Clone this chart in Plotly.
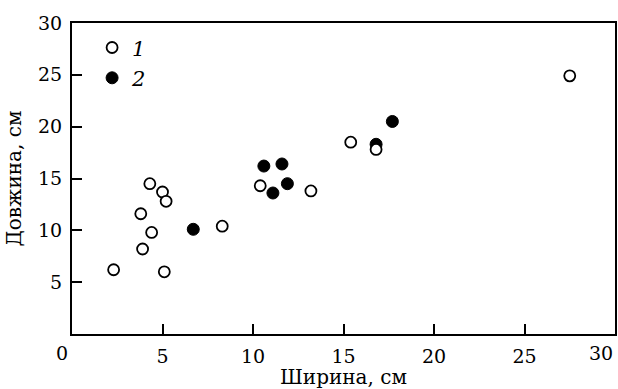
import plotly.graph_objects as go

# Data (width, length in cm)
open_x = [2.3, 4.3, 5.0, 5.2, 3.8, 4.4, 3.9, 5.1, 8.3, 10.4, 13.2, 15.4, 16.8, 27.5]
open_y = [6.2, 14.5, 13.7, 12.8, 11.6, 9.8, 8.2, 6.0, 10.4, 14.3, 13.8, 18.5, 17.8, 24.9]
filled_x = [6.7, 10.6, 11.6, 11.9, 11.1, 16.8, 17.7]
filled_y = [10.1, 16.2, 16.4, 14.5, 13.6, 18.3, 20.5]

x_ticks = [5, 10, 15, 20, 25]
y_ticks = [5, 10, 15, 20, 25, 30]
x_title = "Ширина, см"
y_title = "Довжина, см"
names = ["<i>1</i>", "<i>2</i>"]

TICKFONT = dict(family="DejaVu Serif", size=19, color="black")
TITLEFONT = dict(family="DejaVu Serif", size=20, color="black")

fig = go.Figure()
fig.add_trace(go.Scatter(
    x=filled_x, y=filled_y, mode="markers", name=names[1],
    marker=dict(symbol="circle", size=12, color="black", line=dict(color="black", width=1)),
))
fig.add_trace(go.Scatter(
    x=open_x, y=open_y, mode="markers", name=names[0],
    marker=dict(symbol="circle", size=11, color="white", line=dict(color="black", width=1.8)),
))

axis_common = dict(
    showline=True, linecolor="black", linewidth=2, mirror=True,
    ticks="inside", ticklen=10, tickwidth=2, tickcolor="black",
    showgrid=False, zeroline=False,
)

fig.update_xaxes(range=[0, 30], tickvals=x_ticks, ticktext=[str(v) for v in x_ticks],
                 ticklabelstandoff=4, tickfont=TICKFONT,
                 title=dict(text=x_title, font=TITLEFONT, standoff=3), **axis_common)
fig.update_yaxes(range=[0, 30], tickvals=y_ticks, ticktext=[str(v) for v in y_ticks],
                 ticklabelstandoff=4, tickfont=TICKFONT,
                 title=dict(text=y_title, font=TITLEFONT, standoff=11), **axis_common)

# corner labels "0" and "30" on x axis (offset as in the original)
for v, shift in [(0, -10), (30, -14)]:
    fig.add_annotation(x=v, y=0, xref="x", yref="paper", text=str(v), showarrow=False,
                       yanchor="top", xanchor="center", xshift=shift, yshift=-6, font=TICKFONT)

fig.update_layout(
    width=618, height=389,
    margin=dict(l=72, r=3, t=23, b=55, autoexpand=False),
    plot_bgcolor="white", paper_bgcolor="white",
    showlegend=True,
    legend=dict(x=0.037, y=0.986, xanchor="left", yanchor="top", traceorder="reversed",
                bgcolor="rgba(0,0,0,0)", borderwidth=0,
                font=dict(family="DejaVu Serif", size=21, color="black")),
)

fig.write_html("out.html", config={"displayModeBar": False},
               post_script="document.body.style.margin='0px';document.body.style.overflow='hidden';")
